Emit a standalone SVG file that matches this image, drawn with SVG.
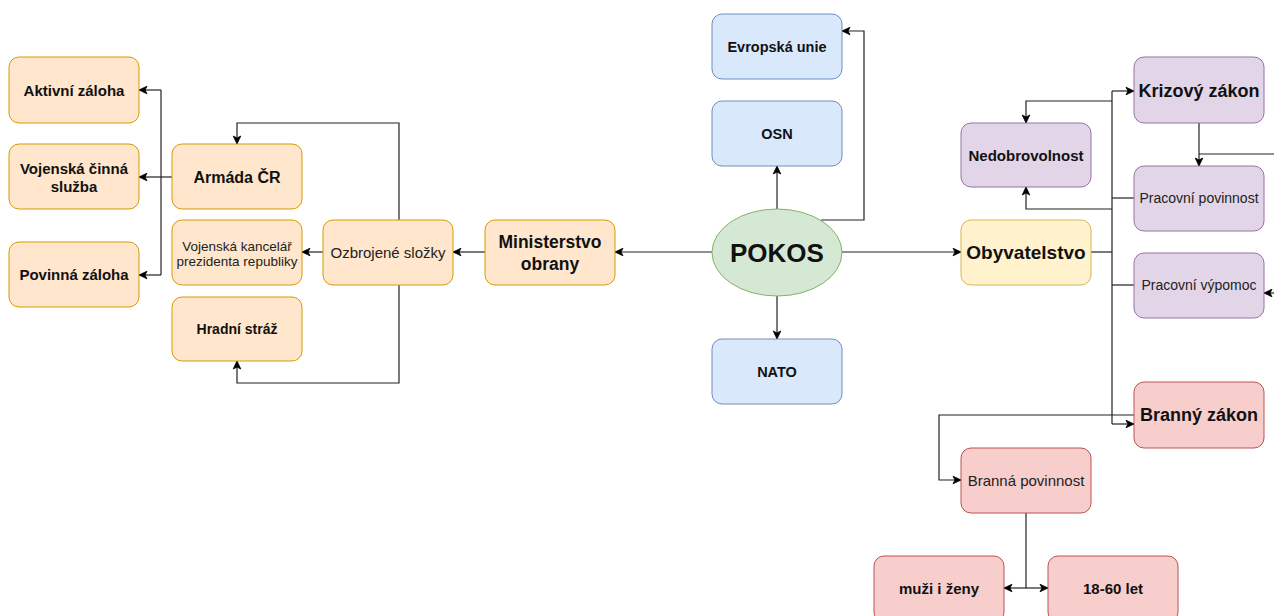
<svg xmlns="http://www.w3.org/2000/svg" width="1274" height="616" viewBox="0 0 1274 616">
<defs>
<marker id="arr" markerUnits="userSpaceOnUse" markerWidth="10" markerHeight="10" viewBox="0 0 10 10" refX="9" refY="5" orient="auto">
<path d="M1,1.2 L9,5 L1,8.8 L3,5 z" fill="#000" stroke="#000" stroke-width="0.8"/>
</marker>
<style>
text{font-family:"Liberation Sans",Arial,Helvetica,sans-serif;text-anchor:middle;fill:#111}
.b{font-weight:bold}
.r{font-weight:normal;fill:#222}
.or{fill:#ffe6cc;stroke:#d79b00;stroke-width:1}
.bl{fill:#dae8fc;stroke:#6c8ebf;stroke-width:1}
.gr{fill:#d5e8d4;stroke:#82b366;stroke-width:1}
.ye{fill:#fff2cc;stroke:#d6b656;stroke-width:1}
.pu{fill:#e1d5e7;stroke:#9673a6;stroke-width:1}
.re{fill:#f8cecc;stroke:#b85450;stroke-width:1}
.c{fill:none;stroke:#222;stroke-width:1.2}
.a{marker-end:url(#arr)}
</style>
</defs>
<rect width="1274" height="616" fill="#fff"/>

<g id="connectors">
<!-- left bus -->
<path class="c" d="M172,177 H161"/>
<path class="c" d="M161,90 V275"/>
<path class="c a" d="M161,90 H139"/>
<path class="c a" d="M161,177 H139"/>
<path class="c a" d="M161,275 H139"/>
<!-- Ozbrojene -->
<path class="c a" d="M399,220 V123 H237 V144"/>
<path class="c a" d="M399,285 V383 H237 V361"/>
<path class="c a" d="M323,252 H302"/>
<path class="c a" d="M485,252 H453"/>
<path class="c a" d="M712,252 H615"/>
<!-- POKOS -->
<path class="c a" d="M777,209 V166"/>
<path class="c a" d="M777,296 V339"/>
<path class="c a" d="M821,220 H864 V31 H842"/>
<path class="c a" d="M842,252 H961"/>
<!-- right bus -->
<path class="c" d="M1091,252 H1112"/>
<path class="c" d="M1112,91 V424"/>
<path class="c a" d="M1112,91 H1134"/>
<path class="c a" d="M1112,424 H1134"/>
<path class="c a" d="M1112,101 H1026 V123"/>
<path class="c a" d="M1112,209 H1026 V187"/>
<path class="c" d="M1134,198 H1112"/>
<path class="c" d="M1134,285 H1112"/>
<path class="c a" d="M1199,123 V166"/>
<path class="c" d="M1274,154 H1199"/>
<path class="c a" d="M1276,293 H1264"/>
<!-- Branny -->
<path class="c a" d="M1134,415 H939 V480 H961"/>
<path class="c" d="M1026,513 V588"/>
<path class="c a" d="M1026,588 H1004"/>
<path class="c a" d="M1026,588 H1048"/>
</g>

<g id="aktivni-zaloha"><rect class="or" x="9" y="57" width="130" height="66" rx="10"/><text class="b" x="74" y="95.5" font-size="15">Aktivní záloha</text></g>
<g id="vojenska-cinna-sluzba"><rect class="or" x="9" y="144" width="130" height="65" rx="10"/><text class="b" x="74" y="174" font-size="15">Vojenská činná</text><text class="b" x="74" y="192" font-size="15">služba</text></g>
<g id="povinna-zaloha"><rect class="or" x="9" y="242" width="130" height="65" rx="10"/><text class="b" x="74" y="280" font-size="15">Povinná záloha</text></g>
<g id="armada-cr"><rect class="or" x="172" y="144" width="130" height="65" rx="10"/><text class="b" x="237" y="182.5" font-size="16">Armáda ČR</text></g>
<g id="vojenska-kancelar"><rect class="or" x="172" y="220" width="130" height="65" rx="10"/><text class="r" x="237" y="250.5" font-size="13.5">Vojenská kancelář</text><text class="r" x="237" y="265.5" font-size="13.5">prezidenta republiky</text></g>
<g id="hradni-straz"><rect class="or" x="172" y="297" width="130" height="64" rx="10"/><text class="b" x="237" y="334" font-size="14">Hradní stráž</text></g>
<g id="ozbrojene-slozky"><rect class="or" x="323" y="220" width="130" height="65" rx="10"/><text class="r" x="388" y="258" font-size="15">Ozbrojené složky</text></g>
<g id="ministerstvo-obrany"><rect class="or" x="485" y="220" width="130" height="65" rx="10"/><text class="b" x="550" y="248" font-size="17.5">Ministerstvo</text><text class="b" x="550" y="270" font-size="17.5">obrany</text></g>
<g id="pokos"><ellipse class="gr" cx="777" cy="252.5" rx="65" ry="43.5"/><text class="b" x="777" y="262" font-size="26">POKOS</text></g>
<g id="evropska-unie"><rect class="bl" x="712" y="14" width="130" height="65" rx="10"/><text class="b" x="777" y="52" font-size="14.5">Evropská unie</text></g>
<g id="osn"><rect class="bl" x="712" y="101" width="130" height="65" rx="10"/><text class="b" x="777" y="139" font-size="14.5">OSN</text></g>
<g id="nato"><rect class="bl" x="712" y="339" width="130" height="65" rx="10"/><text class="b" x="777" y="377" font-size="14.5">NATO</text></g>
<g id="obyvatelstvo"><rect class="ye" x="961" y="220" width="130" height="65" rx="10"/><text class="b" x="1026" y="259" font-size="19">Obyvatelstvo</text></g>
<g id="nedobrovolnost"><rect class="pu" x="961" y="123" width="130" height="64" rx="10"/><text class="b" x="1026" y="161" font-size="15">Nedobrovolnost</text></g>
<g id="krizovy-zakon"><rect class="pu" x="1134" y="57" width="130" height="66" rx="10"/><text class="b" x="1199" y="97" font-size="18">Krizový zákon</text></g>
<g id="pracovni-povinnost"><rect class="pu" x="1134" y="166" width="130" height="65" rx="10"/><text class="r" x="1199" y="203" font-size="14">Pracovní povinnost</text></g>
<g id="pracovni-vypomoc"><rect class="pu" x="1134" y="253" width="130" height="65" rx="10"/><text class="r" x="1199" y="290" font-size="14">Pracovní výpomoc</text></g>
<g id="branny-zakon"><rect class="re" x="1134" y="382" width="130" height="66" rx="10"/><text class="b" x="1199" y="421" font-size="18">Branný zákon</text></g>
<g id="branna-povinnost"><rect class="re" x="961" y="448" width="130" height="65" rx="10"/><text class="r" x="1026" y="486" font-size="15">Branná povinnost</text></g>
<g id="muzi-i-zeny"><rect class="re" x="874" y="556" width="130" height="66" rx="10"/><text class="b" x="939" y="594" font-size="15">muži i ženy</text></g>
<g id="let-18-60"><rect class="re" x="1048" y="556" width="130" height="66" rx="10"/><text class="b" x="1113" y="594" font-size="15">18-60 let</text></g>
</svg>
